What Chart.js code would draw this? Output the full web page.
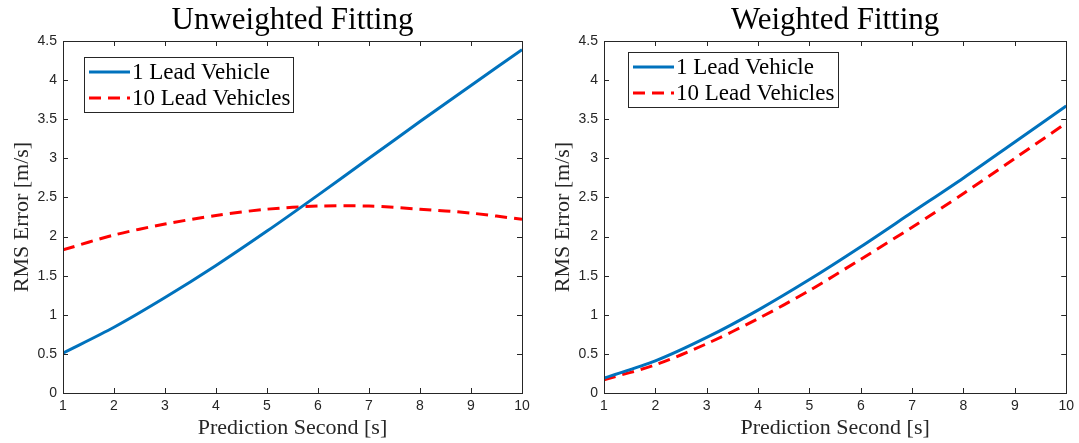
<!DOCTYPE html>
<html>
<head>
<meta charset="utf-8">
<script src="https://cdn.jsdelivr.net/npm/chart.js@4.4.1/dist/chart.umd.min.js"></script>
<style>
  html, body { margin: 0; padding: 0; background: #fff; }
  #wrap { width: 1079px; height: 443px; display: flex; }
  .panel { position: relative; height: 443px; }
</style>
</head>
<body>
<div id="wrap">
  <div class="panel" style="width:540px"><canvas id="leftChart"></canvas></div>
  <div class="panel" style="width:539px"><canvas id="rightChart"></canvas></div>
</div>
<script>
// prediction horizon (s)
const seconds = [1, 2, 3, 4, 5, 6, 7, 8, 9, 10];

// unweighted fitting, RMS error [m/s]
const unweightedOne = [0.51, 0.84, 1.22, 1.63, 2.07, 2.53, 3.0, 3.47, 3.93, 4.39];
const unweightedTen = [1.83, 2.02, 2.16, 2.27, 2.35, 2.39, 2.39, 2.35, 2.30, 2.22];

// weighted fitting, RMS error [m/s]
const weightedOne = [0.19, 0.41, 0.71, 1.06, 1.45, 1.87, 2.31, 2.75, 3.21, 3.67];
const weightedTen = [0.17, 0.36, 0.63, 0.95, 1.31, 1.71, 2.12, 2.55, 3.0, 3.45];

const seriesNames = ["1 Lead Vehicle", "10 Lead Vehicles"];
const yMin = 0, yMax = 4.5, yStep = 0.5;

const serif = "'Liberation Serif', 'DejaVu Serif', serif";
const axisColor = "#262626";

Chart.defaults.font.family = "'Liberation Sans', Arial, sans-serif";
Chart.defaults.font.size = 14;
Chart.defaults.color = axisColor;

function toPoints(vals) {
  return seconds.map((s, i) => ({ x: s, y: vals[i] }));
}

// box around the axes with inward ticks on all sides (matlab look)
const framePlugin = {
  id: "frame",
  afterDatasetsDraw(chart) {
    const { ctx, chartArea: a, scales } = chart;
    const len = 5;
    ctx.save();
    ctx.strokeStyle = axisColor;
    ctx.lineWidth = 1;
    ctx.strokeRect(Math.round(a.left) + 0.5, Math.round(a.top) + 0.5,
      Math.round(a.width), Math.round(a.height));
    ctx.beginPath();
    scales.x.ticks.forEach(t => {
      const px = Math.round(scales.x.getPixelForValue(t.value)) + 0.5;
      ctx.moveTo(px, a.bottom); ctx.lineTo(px, a.bottom - len);
      ctx.moveTo(px, a.top); ctx.lineTo(px, a.top + len);
    });
    scales.y.ticks.forEach(t => {
      const py = Math.round(scales.y.getPixelForValue(t.value)) + 0.5;
      ctx.moveTo(a.left, py); ctx.lineTo(a.left + len, py);
      ctx.moveTo(a.right, py); ctx.lineTo(a.right - len, py);
    });
    ctx.stroke();
    ctx.restore();
  }
};

function makePanel(canvasId, title, one, ten, look) {
  // title centred over the axes and a boxed legend inside them
  const panelPlugin = {
    id: "panel",
    afterDraw(chart) {
      const { ctx, chartArea: a } = chart;
      ctx.save();
      ctx.fillStyle = "#000";
      ctx.font = "31px " + serif;
      ctx.textAlign = "center";
      ctx.textBaseline = "middle";
      ctx.fillText(title, (a.left + a.right) / 2, 21);

      const bx = a.left + look.legendX, by = a.top + look.legendY;
      const bw = look.legendW, bh = 55;
      ctx.fillStyle = "#fff";
      ctx.fillRect(bx, by, bw, bh);
      ctx.strokeStyle = axisColor;
      ctx.lineWidth = 1;
      ctx.strokeRect(Math.round(bx) + 0.5, Math.round(by) + 0.5, bw, bh);
      ctx.font = "23px " + serif;
      ctx.textAlign = "left";
      chart.data.datasets.forEach((ds, i) => {
        const ry = by + 15 + i * 26;
        ctx.strokeStyle = ds.borderColor;
        ctx.lineWidth = ds.borderWidth;
        ctx.setLineDash(ds.borderDash || []);
        ctx.beginPath();
        ctx.moveTo(bx + 5, ry);
        ctx.lineTo(bx + 46, ry);
        ctx.stroke();
        ctx.setLineDash([]);
        ctx.fillStyle = "#000";
        ctx.fillText(ds.label, bx + 48, ry + 1);
      });
      ctx.restore();
    }
  };

  return new Chart(document.getElementById(canvasId), {
    type: "line",
    data: {
      datasets: [
        {
          label: seriesNames[0],
          data: toPoints(one),
          borderColor: "#0072BD",
          borderWidth: 3,
          pointRadius: 0,
          tension: 0.3,
          fill: false
        },
        {
          label: seriesNames[1],
          data: toPoints(ten),
          borderColor: "#FF0000",
          borderWidth: 3,
          borderDash: [12, 7],
          pointRadius: 0,
          tension: 0.3,
          fill: false
        }
      ]
    },
    options: {
      responsive: true,
      maintainAspectRatio: false,
      animation: false,
      layout: { padding: { top: 41, right: look.padRight, left: 0, bottom: 0 } },
      plugins: {
        legend: { display: false },
        title: { display: false },
        tooltip: { enabled: false }
      },
      scales: {
        x: {
          type: "linear",
          min: seconds[0],
          max: seconds[seconds.length - 1],
          grid: { display: false, drawTicks: false },
          border: { display: false },
          ticks: { stepSize: 1, padding: 5, maxRotation: 0, callback: v => String(v) },
          title: {
            display: true,
            text: "Prediction Second [s]",
            font: { family: serif, size: 22 },
            color: axisColor,
            padding: { top: 0, bottom: 2 }
          },
          afterFit: s => { s.height = 50; }
        },
        y: {
          min: yMin,
          max: yMax,
          grid: { display: false, drawTicks: false },
          border: { display: false },
          ticks: { stepSize: yStep, padding: 6, callback: v => String(v) },
          title: {
            display: true,
            text: "RMS Error [m/s]",
            font: { family: serif, size: 22 },
            color: axisColor,
            padding: { top: look.yTitlePad, bottom: 0 }
          },
          afterFit: s => { s.width = look.axisLeft; }
        }
      }
    },
    plugins: [framePlugin, panelPlugin]
  });
}

makePanel("leftChart", "Unweighted Fitting", unweightedOne, unweightedTen,
  { axisLeft: 63, padRight: 18, yTitlePad: 9, legendX: 21, legendY: 16, legendW: 209 });
makePanel("rightChart", "Weighted Fitting", weightedOne, weightedTen,
  { axisLeft: 64, padRight: 11, yTitlePad: 10, legendX: 24, legendY: 11, legendW: 210 });
</script>
</body>
</html>
